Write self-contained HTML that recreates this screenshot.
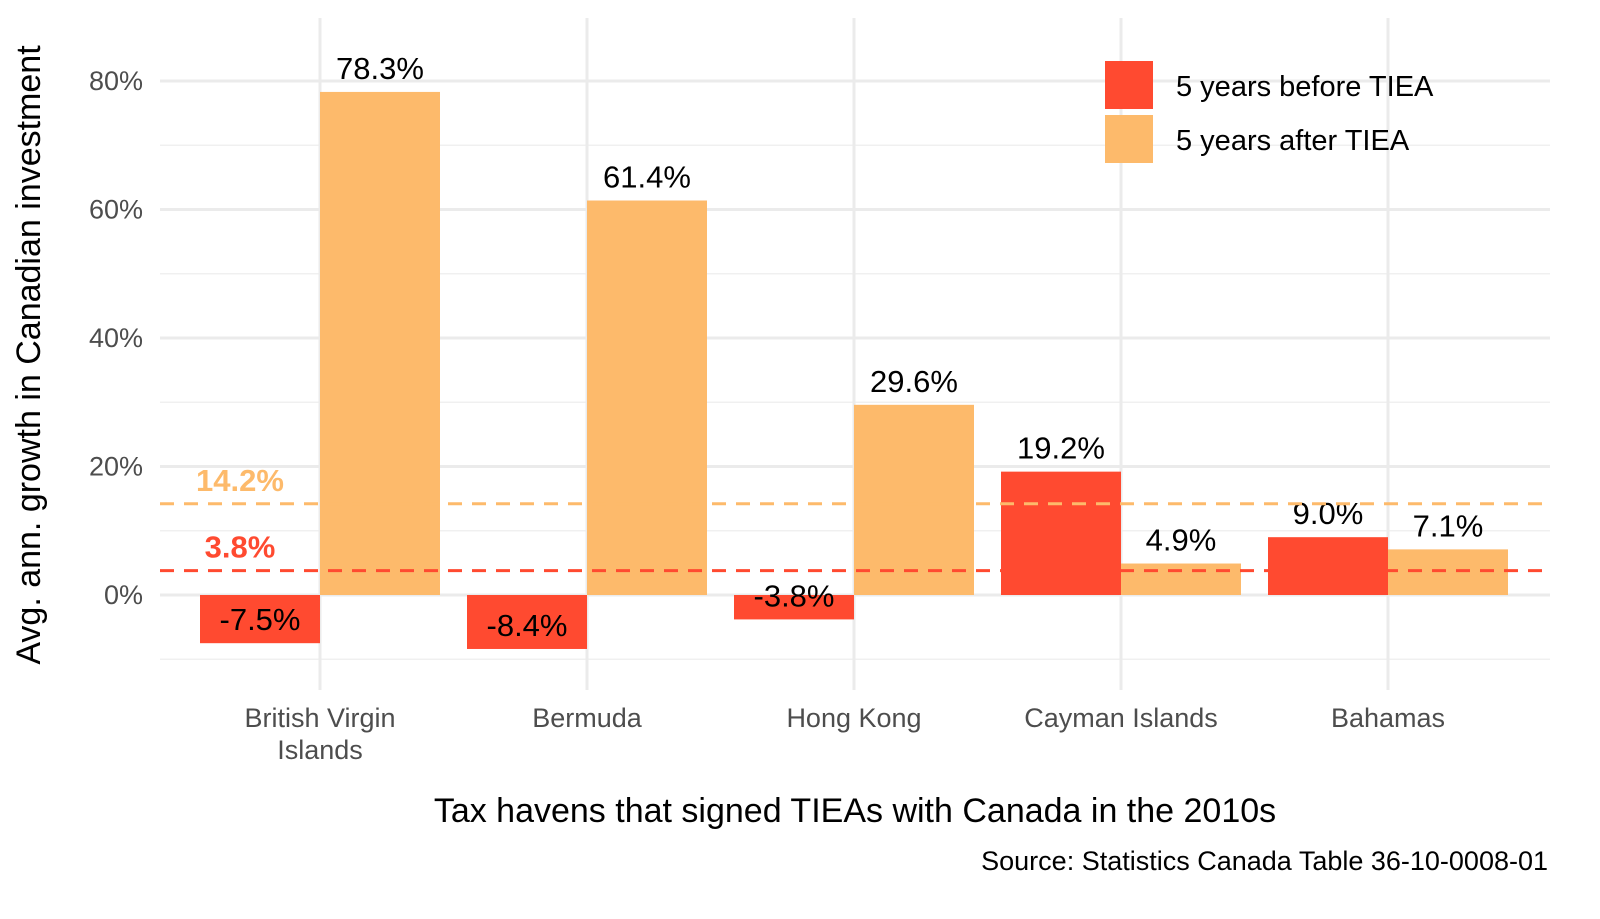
<!DOCTYPE html>
<html><head><meta charset="utf-8"><style>
html,body{margin:0;padding:0;background:#fff;}
svg text{font-family:"Liberation Sans",Arial,sans-serif;}
</style></head><body>
<svg id="chart" width="1600" height="914" viewBox="0 0 1600 914" xmlns="http://www.w3.org/2000/svg">
<g id="grid"></g>
<g id="bars"></g>
<g id="labels"></g>
<g id="axes"></g>
<g>
<rect x="1105" y="61" width="48" height="48" fill="#FF4A30"/>
<text x="1176" y="96" font-size="29" fill="#000">5 years before TIEA</text>
<rect x="1105" y="115" width="48" height="48" fill="#FDBA6B"/>
<text x="1176" y="150" font-size="29" fill="#000">5 years after TIEA</text>
</g>
<text transform="translate(40,355) rotate(-90)" text-anchor="middle" font-size="34" fill="#000">Avg. ann. growth in Canadian investment</text>
<text x="855" y="822" text-anchor="middle" font-size="34" fill="#000">Tax havens that signed TIEAs with Canada in the 2010s</text>
<text x="1548" y="870" text-anchor="end" font-size="27" fill="#000">Source: Statistics Canada Table 36-10-0008-01</text>
</svg>
<script>
const categories = [["British Virgin","Islands"],["Bermuda"],["Hong Kong"],["Cayman Islands"],["Bahamas"]];
const beforeValues = [-7.5, -8.4, -3.8, 19.2, 9.0];
const afterValues = [78.3, 61.4, 29.6, 4.9, 7.1];
const meanBefore = 3.8;
const meanAfter = 14.2;
const yTicks = [0, 20, 40, 60, 80];
const yMinor = [-10, 10, 30, 50, 70];

const NS = "http://www.w3.org/2000/svg";
const y = v => 595 - v * 6.425;
const x = i => 320 + i * 267;
const L = 160, R = 1550, T = 18, B = 690, BW = 120;
const RED = "#FF4A30", ORANGE = "#FDBA6B";
function mk(tag, attrs, parent) {
  const e = document.createElementNS(NS, tag);
  for (const k in attrs) e.setAttribute(k, attrs[k]);
  parent.appendChild(e);
  return e;
}
const grid = document.getElementById("grid"), bars = document.getElementById("bars"),
      labels = document.getElementById("labels"), axes = document.getElementById("axes");
yMinor.forEach(v => {
  const l = mk("line", {x1: L, x2: R, y1: y(v), y2: y(v), stroke: "#f0f0f0", "stroke-width": 1.5}, grid);
  
  
});
yTicks.forEach(v => {
  const l = mk("line", {x1: L, x2: R, y1: y(v), y2: y(v), stroke: "#ebebeb", "stroke-width": 3}, grid);
  
  
  const t = mk("text", {x: 143, y: y(v) + 9, "text-anchor": "end", "font-size": 27, fill: "#4d4d4d"}, axes);
  t.textContent = v + "%";
  
  
});
categories.forEach((c, i) => {
  const l = mk("line", {x1: x(i), x2: x(i), y1: T, y2: B, stroke: "#ebebeb", "stroke-width": 3}, grid);
  
  
  const t = mk("text", {x: x(i), y: 727, "text-anchor": "middle", "font-size": 27, fill: "#4d4d4d"}, axes);
  
  
  c.forEach((line, j) => {
    const s = mk("tspan", {x: x(i), dy: j ? 32 : 0}, t);
    s.textContent = line;
  });
});
function bar(i, v, off, col, name) {
  const y0 = Math.min(y(0), y(v)), h = Math.abs(y(v) - y(0));
  const r = mk("rect", {x: x(i) + off, y: y0, width: BW, height: h, fill: col}, bars);
  
  
  const t = mk("text", {x: x(i) + off + BW / 2, y: y(v) - 13, "text-anchor": "middle", "font-size": 31, fill: "#000"}, labels);
  t.textContent = v.toFixed(1) + "%";
  
  
}
categories.forEach((c, i) => {
  bar(i, beforeValues[i], -BW, RED, 'bar-before');
  bar(i, afterValues[i], 0, ORANGE, 'bar-after');
});
[[meanAfter, ORANGE, 'mean-after'], [meanBefore, RED, 'mean-before']].forEach(([v, col, n]) => {
  const l = mk("line", {x1: L, x2: R, y1: y(v), y2: y(v), stroke: col, "stroke-width": 3, "stroke-dasharray": "14 10"}, labels);
  
  
  const t = mk("text", {x: 240, y: y(v) - 13, "text-anchor": "middle", "font-size": 31, "font-weight": "bold", fill: col}, labels);
  t.textContent = v.toFixed(1) + "%";
  
  
});
</script>
</body></html>
